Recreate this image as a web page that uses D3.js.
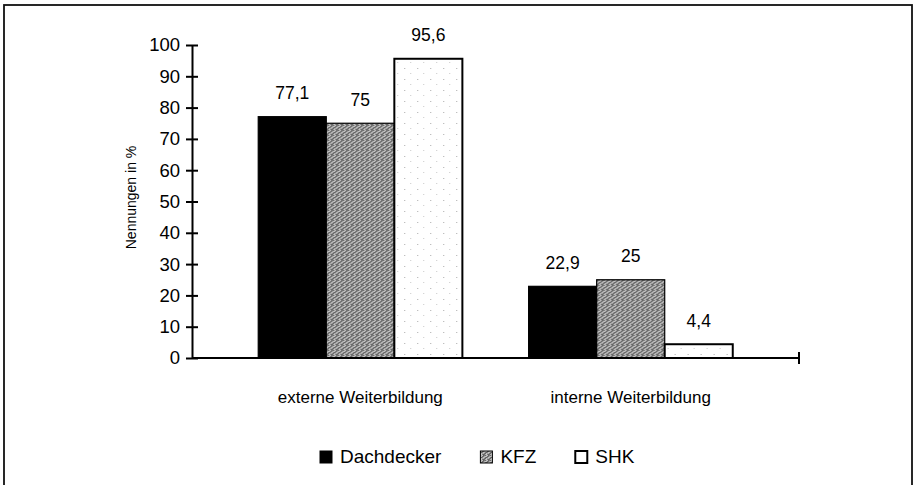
<!DOCTYPE html>
<html>
<head>
<meta charset="utf-8">
<script src="https://cdn.jsdelivr.net/npm/d3@7"></script>
<style>
	body { margin: 0; background: #fff; }
	svg { display: block; font-family: "Liberation Sans", Arial, sans-serif; }
	.tick text { fill: #000; }
</style>
</head>
<body>
<svg id="chart" width="913" height="485"></svg>
<script>
const categories = ["externe Weiterbildung", "interne Weiterbildung"];
const seriesNames = ["Dachdecker", "KFZ", "SHK"];
const dachdecker = [77.1, 22.9];
const kfz = [75, 25];
const shk = [95.6, 4.4];
const yTicks = [0, 10, 20, 30, 40, 50, 60, 70, 80, 90, 100];
const yTitle = "Nennungen in %";

const seriesValues = [dachdecker, kfz, shk];

const plot = { left: 192, right: 799, top: 45, bottom: 358 };

const svg = d3.select("#chart");

// dither textures (scanned halftone look)
const defs = svg.append("defs");
const greyShades = [
	"#6a6a6a", "#c0c0c0", "#7a7a7a", "#b4b4b4", "#606060",
	"#bcbcbc", "#707070", "#c4c4c4", "#686868", "#acacac",
	"#808080", "#b8b8b8", "#5e5e5e", "#c2c2c2", "#767676",
	"#b0b0b0", "#646464", "#a8a8a8", "#747474", "#bebebe",
	"#6e6e6e", "#c6c6c6", "#626262", "#b2b2b2", "#7c7c7c"
];
const grey = defs.append("pattern")
	.attr("id", "kfz-fill")
	.attr("patternUnits", "userSpaceOnUse")
	.attr("width", 5).attr("height", 5);
grey.selectAll("rect")
	.data(greyShades)
	.join("rect")
	.attr("x", (d, i) => (i * 2 + Math.floor(i / 5)) % 5)
	.attr("y", (d, i) => Math.floor(i / 5))
	.attr("width", 1).attr("height", 1)
	.attr("fill", d => d);

const dots = defs.append("pattern")
	.attr("id", "shk-fill")
	.attr("patternUnits", "userSpaceOnUse")
	.attr("width", 13).attr("height", 11);
dots.append("rect").attr("width", 13).attr("height", 11).attr("fill", "#fff");
dots.append("rect").attr("x", 3).attr("y", 2).attr("width", 1).attr("height", 1).attr("fill", "#aaa");
dots.append("rect").attr("x", 9).attr("y", 7).attr("width", 1).attr("height", 1).attr("fill", "#c8c8c8");

const fills = ["#000", "url(#kfz-fill)", "url(#shk-fill)"];
const legendFills = ["#000", "url(#kfz-fill)", "#fff"];

// frame
svg.append("rect")
	.attr("x", 4).attr("y", 5)
	.attr("width", 908).attr("height", 490)
	.attr("fill", "none")
	.attr("stroke", "#111")
	.attr("stroke-width", 1.8);

const x = d3.scaleBand()
	.domain(categories)
	.range([plot.left, plot.right])
	.paddingInner(0.245)
	.paddingOuter(0.245);

const xSub = d3.scaleBand()
	.domain(seriesNames)
	.range([0, x.bandwidth()]);

const y = d3.scaleLinear()
	.domain([0, 100])
	.range([plot.bottom, plot.top]);

// bars
const groups = svg.append("g").attr("class", "bars")
	.selectAll("g")
	.data(categories)
	.join("g")
	.attr("transform", d => `translate(${x(d)},0)`);

const cellData = (c, ci) => seriesNames.map((s, si) => ({ s, si, v: seriesValues[si][ci] }));

groups.selectAll("rect")
	.data(cellData)
	.join("rect")
	.attr("x", d => xSub(d.s))
	.attr("y", d => y(d.v))
	.attr("width", xSub.bandwidth())
	.attr("height", d => y(0) - y(d.v))
	.attr("fill", d => fills[d.si])
	.attr("stroke", "#000")
	.attr("stroke-width", d => d.si == 2 ? 2 : 1.2);

groups.selectAll("text.value")
	.data(cellData)
	.join("text")
	.attr("class", "value")
	.attr("x", d => xSub(d.s) + xSub.bandwidth() / 2)
	.attr("y", d => y(d.v) - 17.5)
	.attr("text-anchor", "middle")
	.attr("font-size", 17.5)
	.text(d => String(d.v).replace(".", ","));

// y axis
const yAxis = svg.append("g")
	.attr("transform", `translate(${plot.left},0)`)
	.call(d3.axisLeft(y).tickValues(yTicks).tickSize(6).tickPadding(6).tickSizeOuter(0));
yAxis.select(".domain").attr("stroke", "#000").attr("stroke-width", 2);
yAxis.selectAll(".tick line").attr("x1", 6).attr("stroke", "#000").attr("stroke-width", 2);
yAxis.selectAll(".tick text")
	.attr("font-size", 18.5)
	.attr("font-family", "Liberation Sans, Arial, sans-serif");

svg.append("text")
	.attr("transform", `translate(132, ${(plot.top + plot.bottom) / 2 - 4}) rotate(-90)`)
	.attr("text-anchor", "middle")
	.attr("dominant-baseline", "middle")
	.attr("font-size", 14)
	.text(yTitle);

// x axis
const xAxis = svg.append("g").attr("class", "xaxis");
xAxis.append("line")
	.attr("x1", plot.left).attr("x2", plot.right)
	.attr("y1", y(0)).attr("y2", y(0))
	.attr("stroke", "#000").attr("stroke-width", 1.8);
xAxis.append("line")
	.attr("x1", plot.right).attr("x2", plot.right)
	.attr("y1", y(0) - 6).attr("y2", y(0) + 6)
	.attr("stroke", "#000").attr("stroke-width", 2);
xAxis.selectAll("text")
	.data(categories)
	.join("text")
	.attr("x", d => x(d) + x.bandwidth() / 2)
	.attr("y", 403)
	.attr("text-anchor", "middle")
	.attr("font-size", 17)
	.text(d => d);

// legend
const legend = svg.append("g").attr("class", "legend");
let lx = 320;
seriesNames.forEach((name, i) => {
	legend.append("rect")
		.attr("x", lx).attr("y", 451)
		.attr("width", 12).attr("height", 12)
		.attr("fill", legendFills[i])
		.attr("stroke", "#000")
		.attr("stroke-width", i == 2 ? 2 : 1);
	const t = legend.append("text")
		.attr("x", lx + 20)
		.attr("y", 463)
		.attr("font-size", 19)
		.text(name);
	lx += 20 + t.node().getComputedTextLength() + 39;
});
</script>
</body>
</html>
